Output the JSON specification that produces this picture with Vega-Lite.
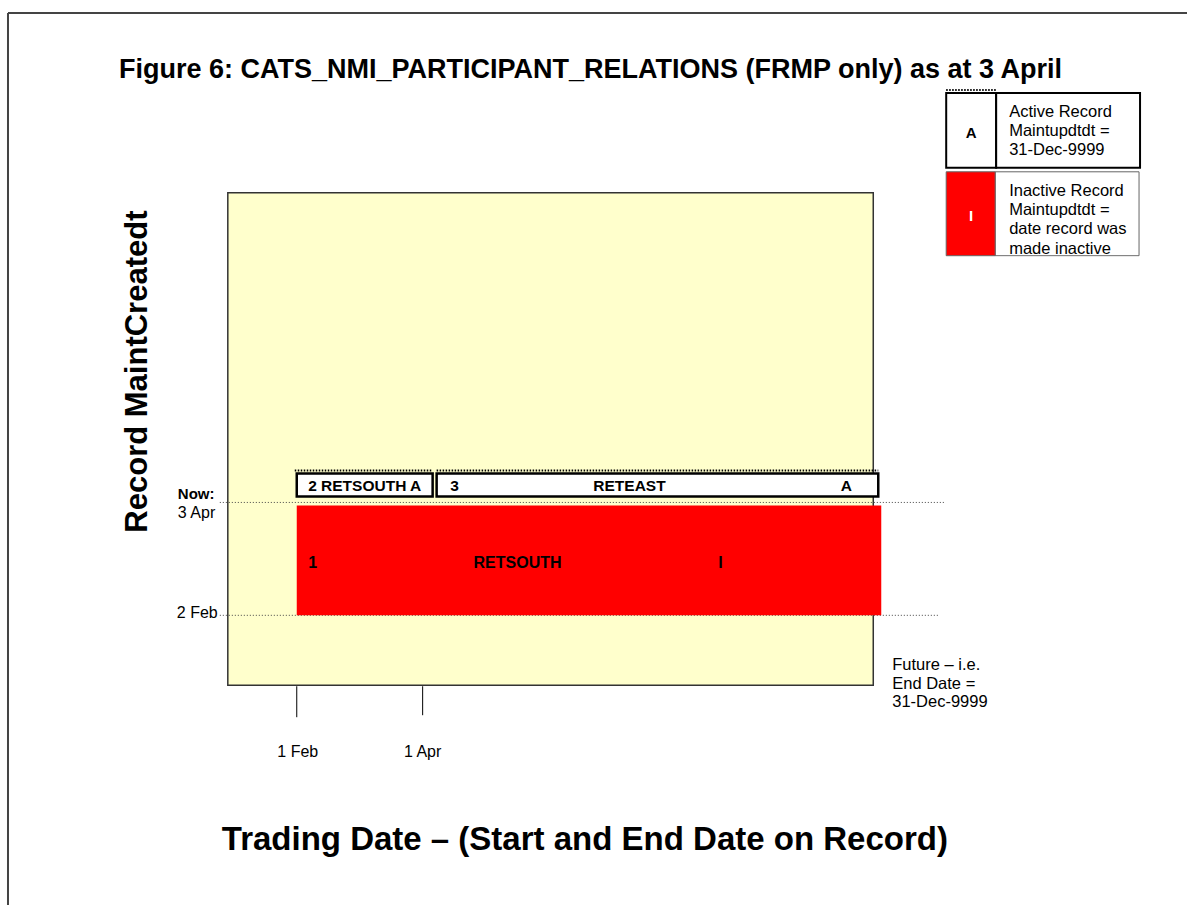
{
  "$schema": "https://vega.github.io/schema/vega-lite/v6.json",
  "width": 1188,
  "height": 906,
  "autosize": {"type": "fit", "contains": "padding"},
  "padding": 0,
  "background": "white",
  "config": {"view": {"stroke": null}, "text": {"font": "Liberation Sans"}},
  "datasets": {
    "border": [{"x": 8, "x2": 1188, "y": 13, "y2": 13}, {"x": 8, "x2": 8, "y": 13, "y2": 906}],
    "plotArea": [{"x": 228, "x2": 874, "y": 193, "y2": 686}],
    "inactiveRecords": [{"x": 297, "x2": 882, "y": 506, "y2": 616}],
    "activeRecords": [{"x": 297, "x2": 433, "y": 474, "y2": 497}, {"x": 437, "x2": 879, "y": 474, "y2": 497}],
    "legendActive": [{"x": 947, "x2": 997, "y": 93, "y2": 168}, {"x": 997, "x2": 1141, "y": 93, "y2": 168}],
    "legendInactiveKey": [{"x": 947, "x2": 996, "y": 172, "y2": 256}],
    "legendInactiveText": [{"x": 996, "x2": 1140, "y": 172, "y2": 256}],
    "legendClip": [{"x": 996, "x2": 1145, "y": 257, "y2": 264}],
    "dottedBlack": [{"x": 295, "x2": 433, "y": 471, "y2": 471}, {"x": 437, "x2": 879, "y": 471, "y2": 471}, {"x": 947, "x2": 997, "y": 90, "y2": 90}],
    "dottedGuides": [{"x": 220, "x2": 945, "y": 503, "y2": 503}, {"x": 220, "x2": 940, "y": 616, "y2": 616}],
    "ticks": [{"x": 297, "x2": 297, "y": 687, "y2": 718}, {"x": 423, "x2": 423, "y": 687, "y2": 716}],
    "title": [{"x": 119, "y": 78, "label": "Figure 6: CATS_NMI_PARTICIPANT_RELATIONS (FRMP only) as at 3 April"}],
    "yTitle": [{"x": 147, "y": 372, "label": "Record MaintCreatedt"}],
    "xTitle": [{"x": 222, "y": 851, "label": "Trading Date – (Start and End Date on Record)"}],
    "nowLabel": [{"x": 178, "y": 500, "label": "Now:"}],
    "yLabels": [{"x": 178, "y": 519, "label": "3 Apr"}, {"x": 177, "y": 619, "label": "2 Feb"}],
    "xLabels": [{"x": 298, "y": 758, "label": "1 Feb"}, {"x": 423, "y": 758, "label": "1 Apr"}],
    "futureNote": [{"x": 893, "y": 671, "label": "Future –  i.e."}, {"x": 893, "y": 690, "label": "End Date ="}, {"x": 893, "y": 708, "label": "31-Dec-9999"}],
    "inactiveLabels": [{"x": 313, "y": 569, "label": "1"}, {"x": 518, "y": 569, "label": "RETSOUTH"}, {"x": 721, "y": 569, "label": "I"}],
    "activeLabels": [{"x": 365, "y": 492, "label": "2 RETSOUTH A"}, {"x": 455, "y": 492, "label": "3"}, {"x": 630, "y": 492, "label": "RETEAST"}, {"x": 847, "y": 492, "label": "A"}],
    "legendKeyA": [{"x": 972, "y": 138, "label": "A"}],
    "legendKeyI": [{"x": 972, "y": 221, "label": "I"}],
    "legendDesc": [
      {"x": 1010, "y": 117, "label": "Active Record"},
      {"x": 1010, "y": 136, "label": "Maintupdtdt ="},
      {"x": 1010, "y": 155, "label": "31-Dec-9999"},
      {"x": 1010, "y": 196, "label": "Inactive Record"},
      {"x": 1010, "y": 215, "label": "Maintupdtdt ="},
      {"x": 1010, "y": 234, "label": "date record was"},
      {"x": 1010, "y": 254, "label": "made inactive"}
    ]
  },
  "encoding": {
    "x": {"field": "x", "type": "quantitative", "scale": {"domain": [0, 1188], "nice": false, "zero": false}, "axis": null},
    "y": {"field": "y", "type": "quantitative", "scale": {"domain": [0, 906], "reverse": true, "nice": false, "zero": false}, "axis": null}
  },
  "layer": [
    {"data": {"name": "border"}, "mark": {"type": "rule", "color": "#444444", "strokeWidth": 2}, "encoding": {"x2": {"field": "x2"}, "y2": {"field": "y2"}}},
    {"data": {"name": "plotArea"}, "mark": {"type": "rect", "fill": "#FFFFCC", "stroke": "#333333", "strokeWidth": 1.5}, "encoding": {"x2": {"field": "x2"}, "y2": {"field": "y2"}}},
    {"data": {"name": "dottedGuides"}, "mark": {"type": "rule", "color": "#444444", "strokeWidth": 1, "strokeDash": [1, 2]}, "encoding": {"x2": {"field": "x2"}, "y2": {"field": "y2"}}},
    {"data": {"name": "inactiveRecords"}, "mark": {"type": "rect", "fill": "#FF0000"}, "encoding": {"x2": {"field": "x2"}, "y2": {"field": "y2"}}},
    {"data": {"name": "activeRecords"}, "mark": {"type": "rect", "fill": "white", "stroke": "black", "strokeWidth": 2.5}, "encoding": {"x2": {"field": "x2"}, "y2": {"field": "y2"}}},
    {"data": {"name": "dottedBlack"}, "mark": {"type": "rule", "color": "black", "strokeWidth": 2, "strokeDash": [1.5, 1.5]}, "encoding": {"x2": {"field": "x2"}, "y2": {"field": "y2"}}},
    {"data": {"name": "ticks"}, "mark": {"type": "rule", "color": "black", "strokeWidth": 1}, "encoding": {"x2": {"field": "x2"}, "y2": {"field": "y2"}}},
    {"data": {"name": "legendActive"}, "mark": {"type": "rect", "fill": "white", "stroke": "black", "strokeWidth": 2}, "encoding": {"x2": {"field": "x2"}, "y2": {"field": "y2"}}},
    {"data": {"name": "legendInactiveText"}, "mark": {"type": "rect", "fill": "white", "stroke": "#666666", "strokeWidth": 1}, "encoding": {"x2": {"field": "x2"}, "y2": {"field": "y2"}}},
    {"data": {"name": "legendInactiveKey"}, "mark": {"type": "rect", "fill": "#FF0000", "stroke": "#666666", "strokeWidth": 1}, "encoding": {"x2": {"field": "x2"}, "y2": {"field": "y2"}}},
    {"data": {"name": "legendDesc"}, "mark": {"type": "text", "align": "left", "baseline": "alphabetic", "fontSize": 16.5, "color": "black"}, "encoding": {"text": {"field": "label"}}},
    {"data": {"name": "legendClip"}, "mark": {"type": "rect", "fill": "white"}, "encoding": {"x2": {"field": "x2"}, "y2": {"field": "y2"}}},
    {"data": {"name": "legendKeyA"}, "mark": {"type": "text", "align": "center", "baseline": "alphabetic", "fontSize": 15, "fontWeight": "bold", "color": "black"}, "encoding": {"text": {"field": "label"}}},
    {"data": {"name": "legendKeyI"}, "mark": {"type": "text", "align": "center", "baseline": "alphabetic", "fontSize": 15, "fontWeight": "bold", "color": "white"}, "encoding": {"text": {"field": "label"}}},
    {"data": {"name": "title"}, "mark": {"type": "text", "align": "left", "baseline": "alphabetic", "fontSize": 27, "fontWeight": "bold", "color": "black"}, "encoding": {"text": {"field": "label"}}},
    {"data": {"name": "yTitle"}, "mark": {"type": "text", "align": "center", "baseline": "alphabetic", "angle": 270, "fontSize": 31, "fontWeight": "bold", "color": "black"}, "encoding": {"text": {"field": "label"}}},
    {"data": {"name": "xTitle"}, "mark": {"type": "text", "align": "left", "baseline": "alphabetic", "fontSize": 33, "fontWeight": "bold", "color": "black"}, "encoding": {"text": {"field": "label"}}},
    {"data": {"name": "nowLabel"}, "mark": {"type": "text", "align": "left", "baseline": "alphabetic", "fontSize": 15, "fontWeight": "bold", "color": "black"}, "encoding": {"text": {"field": "label"}}},
    {"data": {"name": "yLabels"}, "mark": {"type": "text", "align": "left", "baseline": "alphabetic", "fontSize": 16, "color": "black"}, "encoding": {"text": {"field": "label"}}},
    {"data": {"name": "xLabels"}, "mark": {"type": "text", "align": "center", "baseline": "alphabetic", "fontSize": 16, "color": "black"}, "encoding": {"text": {"field": "label"}}},
    {"data": {"name": "futureNote"}, "mark": {"type": "text", "align": "left", "baseline": "alphabetic", "fontSize": 16.5, "color": "black"}, "encoding": {"text": {"field": "label"}}},
    {"data": {"name": "inactiveLabels"}, "mark": {"type": "text", "align": "center", "baseline": "alphabetic", "fontSize": 16, "fontWeight": "bold", "color": "black"}, "encoding": {"text": {"field": "label"}}},
    {"data": {"name": "activeLabels"}, "mark": {"type": "text", "align": "center", "baseline": "alphabetic", "fontSize": 15.5, "fontWeight": "bold", "color": "black"}, "encoding": {"text": {"field": "label"}}}
  ]
}
